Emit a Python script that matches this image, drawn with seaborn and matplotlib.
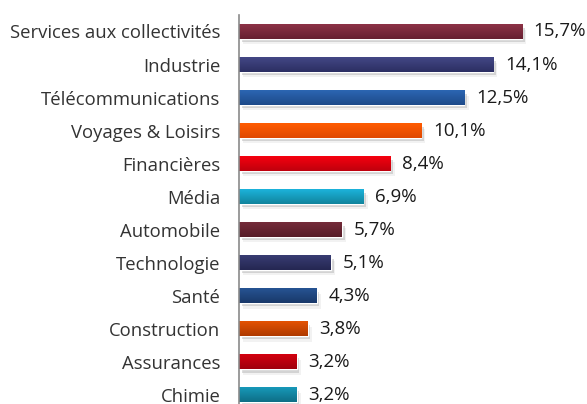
import numpy as np
import pandas as pd
import seaborn as sns
import matplotlib.pyplot as plt
import matplotlib.patheffects as pe
from matplotlib.colors import to_rgb

# ----- Data ----- #
sectors = ["Services aux collectivités", "Industrie", "Télécommunications", "Voyages & Loisirs",
           "Financières", "Média", "Automobile", "Technologie", "Santé", "Construction",
           "Assurances", "Chimie"]
shares = [15.7, 14.1, 12.5, 10.1, 8.4, 6.9, 5.7, 5.1, 4.3, 3.8, 3.2, 3.2]

# top / bottom colours of each bar gradient
top_colors = ["#8c3246", "#434785", "#2c66b2", "#ff5c02", "#f5000f", "#1cb2da",
              "#742c3a", "#383c72", "#265392", "#e35203", "#d2000f", "#1798b8"]
bottom_colors = ["#672031", "#2c2f63", "#1d4a8a", "#e04800", "#c0000d", "#11859e",
                 "#571c28", "#252752", "#19396a", "#b03b00", "#a0000c", "#0e6f87"]

df = pd.DataFrame({"Sector": sectors, "Share": shares})

sns.set_style("white")
plt.rcParams["font.family"] = ["Open Sans", "DejaVu Sans"]

fig = plt.figure(figsize=(5.87, 4.04), dpi=100)
ax = fig.add_axes([239 / 587, -0.0186, (563.5 - 239) / 587, 0.963 + 0.0186])

sns.barplot(data=df, x="Share", y="Sector", hue="Sector", palette=top_colors, legend=False,
            width=0.43, saturation=1, ax=ax)

# soft shadow + vertical gradient on each bar
for patch, c_top, c_bot in zip(ax.patches, top_colors, bottom_colors):
    patch.set_path_effects([pe.SimplePatchShadow(offset=(2, -2.5), shadow_rgbFace="#888888", alpha=0.3),
                            pe.SimplePatchShadow(offset=(3, -4), shadow_rgbFace="#aaaaaa", alpha=0.15),
                            pe.Normal()])
    x0, y0 = patch.get_x(), patch.get_y()
    w, h = patch.get_width(), patch.get_height()
    grad = np.linspace(to_rgb(c_top), to_rgb(c_bot), 16)[:, None, :]
    ax.imshow(grad, extent=(x0, x0 + w, y0 + h, y0), origin="upper", aspect="auto",
              interpolation="bilinear", zorder=patch.get_zorder() + 0.1)

# value labels
for i, v in enumerate(shares):
    ax.text(v + 0.65, i, f"{v:.1f}%".replace(".", ","), va="center", ha="left",
            fontsize=13.5, color="#1a1a1a")

ax.set_xlim(0, 18)
ax.set_ylim(len(sectors) - 0.5, -0.5)
ax.set_xlabel("")
ax.set_ylabel("")
ax.set_xticks([])

for side in ["top", "right", "bottom"]:
    ax.spines[side].set_visible(False)
ax.spines["left"].set_color("#8a8a8a")
ax.spines["left"].set_linewidth(1.2)

ax.set_yticks(np.arange(len(sectors) + 1) - 0.5, minor=True)
ax.tick_params(axis="y", which="major", length=0, pad=13.5, labelsize=13.3, labelcolor="#333333")
ax.tick_params(axis="y", which="minor", length=4.5, width=1.2, color="#8a8a8a", direction="out")

fig.savefig("out.png", dpi=100)
